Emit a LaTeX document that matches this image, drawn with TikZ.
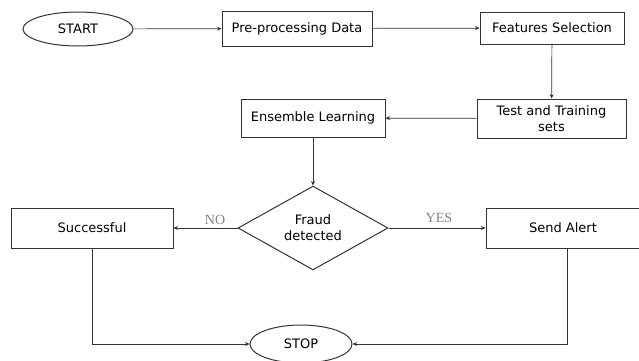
\documentclass[tikz,border=0pt]{standalone}
\usepackage{fontspec}
\setsansfont{DejaVu Sans}
\newfontfamily\labelfont{Liberation Serif}
\usetikzlibrary{arrows.meta,positioning,shapes.geometric}
\definecolor{FlowInk}{HTML}{333333}
\definecolor{FlowGray}{HTML}{7F7F7F}
\tikzset{
  >={Stealth[length=4.5pt,width=4pt]},
  flow/.style={->,line width=0.7pt,draw=FlowInk},
  stepbox/.style={draw=FlowInk,line width=1pt,rectangle,align=center,
    inner sep=2pt,font=\sffamily\fontsize{13}{16}\selectfont},
  termbox/.style={draw=FlowInk,line width=1pt,ellipse,inner sep=0pt,
    font=\sffamily\fontsize{13}{16}\selectfont},
  decbox/.style={draw=FlowInk,line width=1pt,diamond,align=center,inner sep=0pt,
    font=\sffamily\fontsize{13}{16}\selectfont},
  edgelabel/.style={text=FlowGray,font=\labelfont\fontsize{14}{15}\selectfont}
}
\begin{document}
\begin{tikzpicture}[x=1pt,y=-1pt]
  \useasboundingbox (0,0) rectangle (639,360);
  \node[termbox,minimum width=110pt,minimum height=34pt] (start) at (78,29) {START};
  \node[stepbox,minimum width=150pt,minimum height=35pt] (prep) at (297,28.5) {Pre-processing Data};
  \node[stepbox,minimum width=144pt,minimum height=32pt] (feat) at (552,28) {Features Selection};
  \node[stepbox,minimum width=149pt,minimum height=39pt] (sets) at (551.5,118.5) {Test and Training\\sets};
  \node[stepbox,minimum width=144pt,minimum height=38pt] (ens) at (313,118) {Ensemble Learning};
  \node[decbox,minimum width=150pt,minimum height=82pt] (fraud) at (313,228) {Fraud\\detected};
  \node[stepbox,minimum width=162pt,minimum height=40pt] (succ) at (92,228) {Successful};
  \node[stepbox,minimum width=154pt,minimum height=40pt] (alert) at (563,228) {Send Alert};
  \node[termbox,minimum width=102pt,minimum height=38pt] (stop) at (301,344) {STOP};

  \draw[flow] (start) -- (prep);
  \draw[flow] (prep) -- (feat);
  \draw[flow] (feat) -- (sets);
  \draw[flow] (sets) -- (ens);
  \draw[flow] (ens) -- (fraud);
  \draw[flow] (fraud.west) -- node[edgelabel,above,pos=0.35] {NO} (succ.east);
  \draw[flow] (fraud.east) -- node[edgelabel,above,pos=0.52,yshift=2pt] {YES} (alert.west);
  \draw[flow] (succ.south) |- (stop.west);
  \draw[flow] ([xshift=4pt]alert.south) |- (stop.east);
\end{tikzpicture}
\end{document}
